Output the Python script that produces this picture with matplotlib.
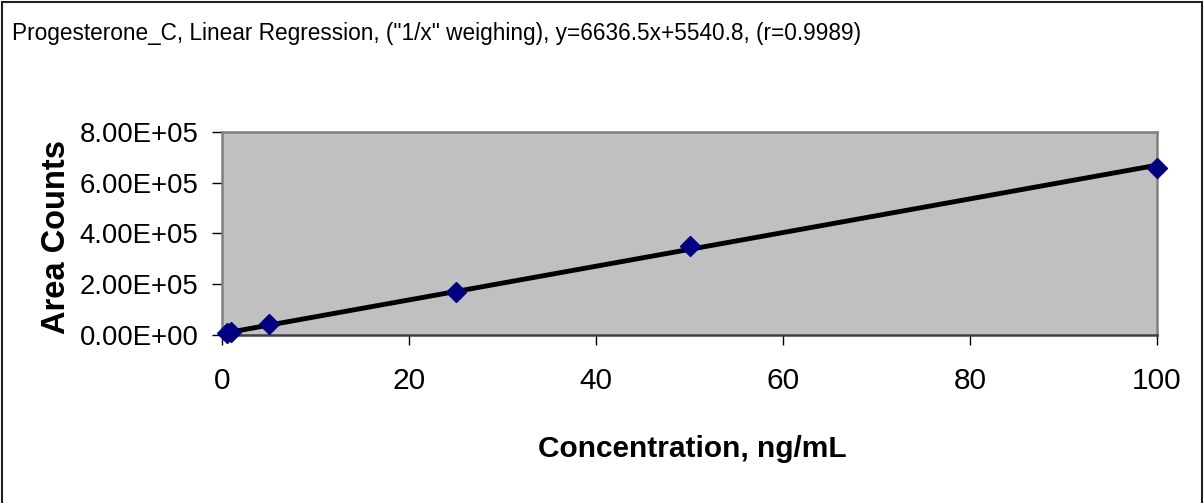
import numpy as np
import matplotlib
matplotlib.use("Agg")
import matplotlib.pyplot as plt
from matplotlib.patches import Rectangle

plt.rcParams['font.family'] = ['Liberation Sans', 'DejaVu Sans']

# calibration standards
conc = [0.5, 1, 5, 25, 50, 100]
area = [9.0e3, 1.1e4, 4.2e4, 1.71e5, 3.52e5, 6.59e5]

# regression result, "1/x" weighing
slope = 6636.5
intercept = 5540.8
r_value = 0.9989

x_ticks = [0, 20, 40, 60, 80, 100]
y_ticks = [0, 2e5, 4e5, 6e5, 8e5]
y_tick_labels = ['0.00E+00', '2.00E+05', '4.00E+05', '6.00E+05', '8.00E+05']


def main():
    fig = plt.figure(figsize=(12.04, 5.03), dpi=100)
    ax = fig.add_axes([0.1844, 0.334, 0.7766, 0.4036])
    ax.set_facecolor('#c0c0c0')

    fit_x = np.array([min(conc), max(conc)])
    fit_y = slope * fit_x + intercept
    ax.plot(fit_x, fit_y, color='black', lw=3.5, zorder=2, clip_on=False)
    ax.plot(conc, area, linestyle='none', marker='D', ms=10.5,
            color='#000080', mec='#000080', zorder=3, clip_on=False)

    ax.set_xlim(0, 100)
    ax.set_ylim(0, 8e5)
    ax.set_xticks(x_ticks)
    ax.set_xticklabels([str(t) for t in x_ticks], fontsize=21.5)
    ax.set_yticks(y_ticks)
    ax.set_yticklabels(y_tick_labels, fontsize=19.8)
    ax.tick_params(direction='out', length=7, width=1, colors='black')
    ax.tick_params(axis='x', pad=16)
    ax.tick_params(axis='y', pad=10)

    for side in ['top', 'right', 'left']:
        ax.spines[side].set_color('#808080')
    ax.spines['bottom'].set_color('#404040')
    for sp in ax.spines.values():
        sp.set_linewidth(1.8)

    fig.text(0.575, 0.0915, 'Concentration, ng/mL', fontsize=21.5,
             fontweight='bold', ha='center', va='baseline')
    fig.text(0.054, 0.529, 'Area Counts', fontsize=23.5, fontweight='bold',
             rotation=90, rotation_mode='anchor', ha='center', va='baseline')

    title = 'Progesterone_C, Linear Regression, ("1/x" weighing), y=%.1fx+%.1f, (r=%.4f)' % (
        slope, intercept, r_value)
    fig.text(0.010, 0.9205, title, fontsize=16.3, ha='left', va='baseline')

    fig.patches.append(Rectangle((0.002, -0.01), 0.9965, 1.007,
                                 transform=fig.transFigure, fill=False,
                                 edgecolor='#202020', lw=1.5))

    fig.savefig('out.png', dpi=100)


if __name__ == "__main__":
    main()
